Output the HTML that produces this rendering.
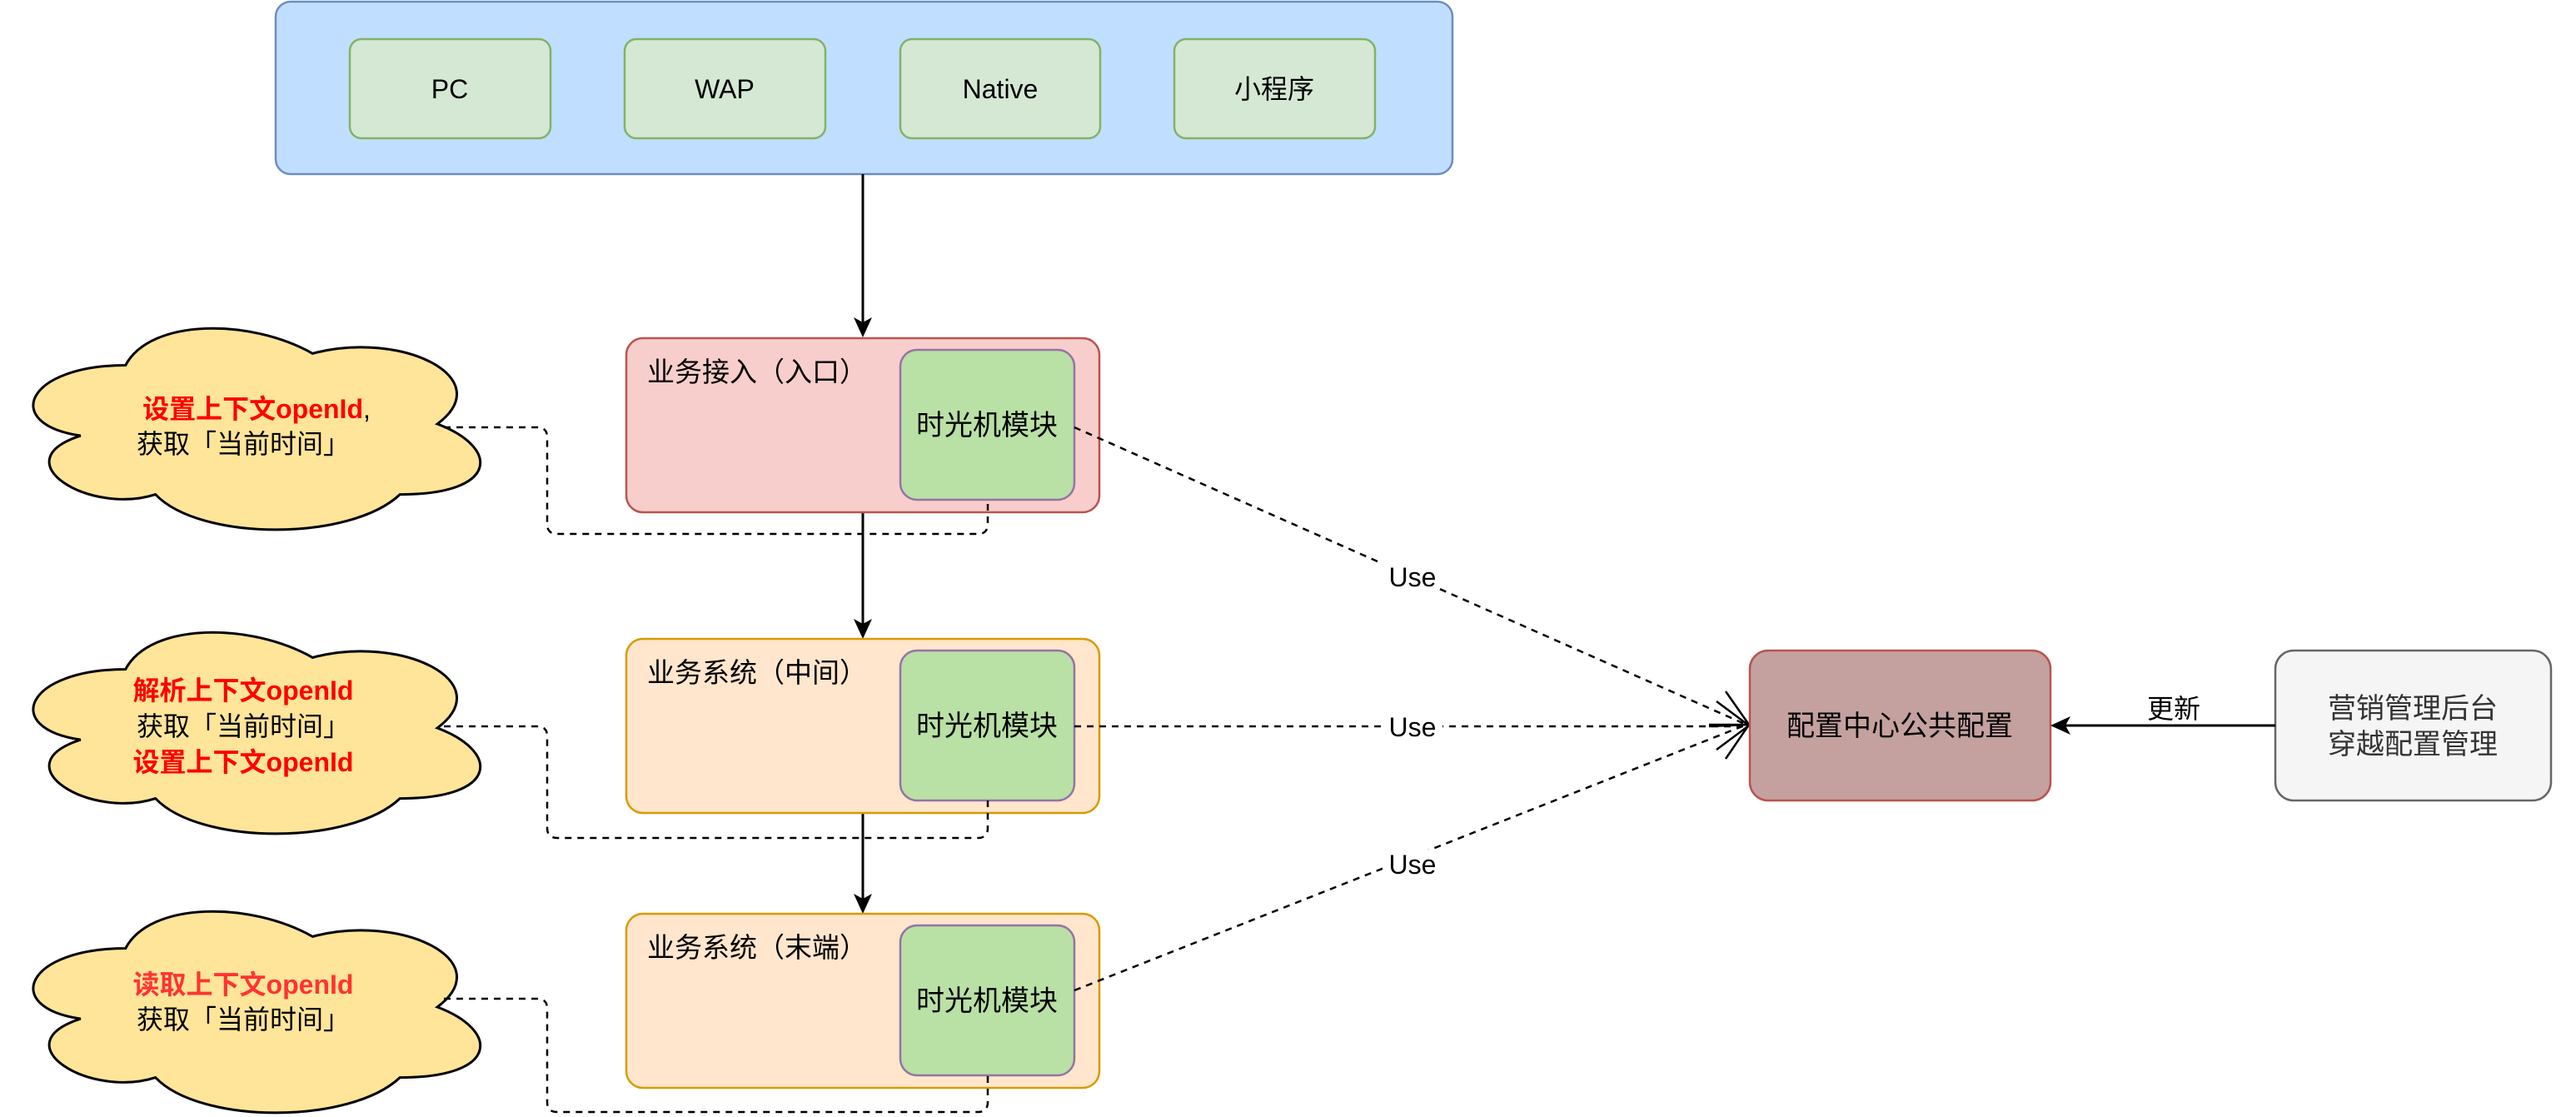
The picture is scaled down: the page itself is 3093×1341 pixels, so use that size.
<!DOCTYPE html>
<html><head><meta charset="utf-8"><style>
html,body{margin:0;padding:0;background:#fff;}
svg{display:block;}
text{font-family:"Liberation Sans","Noto Sans CJK SC",sans-serif;}
</style></head><body>
<svg width="3093" height="1341" viewBox="0 0 3093 1341" xmlns="http://www.w3.org/2000/svg">

<!-- top -->
<rect x="331" y="2" width="1413" height="207" rx="18" fill="#c0deff" stroke="#6c8ebf" stroke-width="2.5"/>
<g fill="#d5e8d4" stroke="#82b366" stroke-width="2.5">
<rect x="420" y="47" width="241" height="119" rx="14"/>
<rect x="750" y="47" width="241" height="119" rx="14"/>
<rect x="1081" y="47" width="240" height="119" rx="14"/>
<rect x="1410" y="47" width="241" height="119" rx="14"/>
</g>
<g font-size="32" text-anchor="middle" fill="#000">
<text x="540" y="118">PC</text>
<text x="870" y="118">WAP</text>
<text x="1201" y="118">Native</text>
<text x="1530" y="118">小程序</text>
</g>

<!-- vertical arrows -->
<g stroke="#000" stroke-width="3">
<line x1="1036" y1="209" x2="1036" y2="390"/>
<line x1="1036" y1="615" x2="1036" y2="752"/>
<line x1="1036" y1="976" x2="1036" y2="1082"/>
</g>
<g fill="#000">
<path d="M1036,405 l-11,-24 l11,6 l11,-6z"/>
<path d="M1036,767 l-11,-24 l11,6 l11,-6z"/>
<path d="M1036,1097 l-11,-24 l11,6 l11,-6z"/>
</g>

<!-- boxes -->
<rect x="752" y="406" width="568" height="209" rx="20" fill="#f8cecc" stroke="#b85450" stroke-width="2.5"/>
<rect x="752" y="767" width="568" height="209" rx="20" fill="#ffe6cc" stroke="#d79b00" stroke-width="2.5"/>
<rect x="752" y="1097" width="568" height="209" rx="20" fill="#ffe6cc" stroke="#d79b00" stroke-width="2.5"/>
<g fill="#b9e0a5" stroke="#9673a6" stroke-width="2.5">
<rect x="1081" y="420" width="209" height="180" rx="20"/>
<rect x="1081" y="781" width="209" height="180" rx="20"/>
<rect x="1081" y="1111" width="209" height="180" rx="20"/>
</g>
<g font-size="33" fill="#000">
<text x="777" y="458">业务接入（入口）</text>
<text x="777" y="819">业务系统（中间）</text>
<text x="777" y="1149">业务系统（末端）</text>
</g>
<g font-size="34" fill="#000" text-anchor="middle">
<text x="1185" y="522">时光机模块</text>
<text x="1185" y="883">时光机模块</text>
<text x="1185" y="1213">时光机模块</text>
</g>

<!-- clouds -->
<g fill="#ffe599" stroke="#000" stroke-width="3">
<path transform="translate(1,368) scale(599,282)" vector-effect="non-scaling-stroke" d="M0.25,0.25 C0.05,0.25 0,0.5 0.16,0.55 C0,0.66 0.18,0.89 0.31,0.8 C0.4,1 0.7,1 0.8,0.8 C1,0.8 1,0.6 0.875,0.5 C1,0.3 0.8,0.1 0.625,0.2 C0.5,0.05 0.3,0.05 0.25,0.25 Z"/>
<path transform="translate(1,733) scale(599,282)" vector-effect="non-scaling-stroke" d="M0.25,0.25 C0.05,0.25 0,0.5 0.16,0.55 C0,0.66 0.18,0.89 0.31,0.8 C0.4,1 0.7,1 0.8,0.8 C1,0.8 1,0.6 0.875,0.5 C1,0.3 0.8,0.1 0.625,0.2 C0.5,0.05 0.3,0.05 0.25,0.25 Z"/>
<path transform="translate(1,1068) scale(599,282)" vector-effect="non-scaling-stroke" d="M0.25,0.25 C0.05,0.25 0,0.5 0.16,0.55 C0,0.66 0.18,0.89 0.31,0.8 C0.4,1 0.7,1 0.8,0.8 C1,0.8 1,0.6 0.875,0.5 C1,0.3 0.8,0.1 0.625,0.2 C0.5,0.05 0.3,0.05 0.25,0.25 Z"/>
</g>
<g font-size="32" text-anchor="middle">
<text x="308" y="502"><tspan fill="#ff0000" font-weight="bold">设置上下文openId</tspan><tspan fill="#000">,</tspan></text>
<text x="292" y="544" fill="#000">获取「当前时间」</text>
<text x="292" y="840" fill="#ff0000" font-weight="bold">解析上下文openId</text>
<text x="292" y="883" fill="#000">获取「当前时间」</text>
<text x="292" y="926" fill="#ff0000" font-weight="bold">设置上下文openId</text>
<text x="292" y="1193" fill="#ff3333" font-weight="bold">读取上下文openId</text>
<text x="292" y="1235" fill="#000">获取「当前时间」</text>
</g>

<!-- dashed connectors -->
<g fill="none" stroke="#000" stroke-width="2.5" stroke-dasharray="8,7">
<path d="M533,513 H645 Q657,513 657,525 V629 Q657,641 669,641 H1174 Q1186,641 1186,629 V600"/>
<path d="M533,872 H645 Q657,872 657,884 V994 Q657,1006 669,1006 H1174 Q1186,1006 1186,994 V961"/>
<path d="M533,1199 H645 Q657,1199 657,1211 V1323 Q657,1335 669,1335 H1174 Q1186,1335 1186,1323 V1292"/>
<line x1="1290" y1="513" x2="2097" y2="870"/>
<line x1="1290" y1="872" x2="2097" y2="872"/>
<line x1="1290" y1="1189" x2="2097" y2="870"/>
</g>
<g fill="none" stroke="#000" stroke-width="2.5">
<path d="M2061,842 L2100,871 L2061,900"/>
<path d="M2072,830 L2100,870 L2052,872"/>
<path d="M2052,870 L2100,870 L2072,911"/>
</g>
<g font-size="32" text-anchor="middle" fill="#000">
<rect x="1660" y="670" width="72" height="36" fill="#fff"/>
<text x="1696" y="704">Use</text>
<rect x="1660" y="855" width="72" height="36" fill="#fff"/>
<text x="1696" y="884">Use</text>
<rect x="1660" y="1020" width="72" height="36" fill="#fff"/>
<text x="1696" y="1049">Use</text>
</g>

<!-- right -->
<rect x="2101" y="781" width="361" height="180" rx="22" fill="#c4a19f" stroke="#b85450" stroke-width="2.5"/>
<text x="2281" y="883" font-size="34" text-anchor="middle" fill="#000">配置中心公共配置</text>
<rect x="2732" y="781" width="331" height="180" rx="22" fill="#f5f5f5" stroke="#666666" stroke-width="2.5"/>
<text x="2897" y="862" font-size="34" text-anchor="middle" fill="#333">营销管理后台</text>
<text x="2897" y="905" font-size="34" text-anchor="middle" fill="#333">穿越配置管理</text>
<line x1="2732" y1="871" x2="2478" y2="871" stroke="#000" stroke-width="3"/>
<path d="M2462,871 l24,-11 l-6,11 l6,11z" fill="#000"/>
<text x="2610" y="862" font-size="32" text-anchor="middle" fill="#000">更新</text>
</svg>
</body></html>
